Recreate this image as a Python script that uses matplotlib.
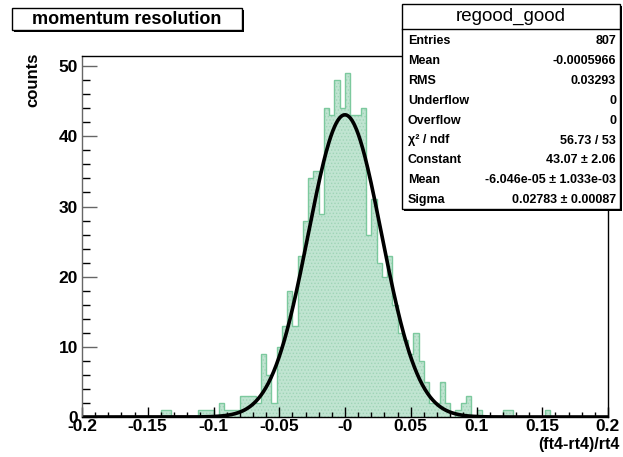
import numpy as np
import matplotlib
matplotlib.use("Agg")
import matplotlib.pyplot as plt
from matplotlib.patches import Rectangle
from matplotlib.ticker import MultipleLocator, FixedLocator, FixedFormatter

plt.rcParams['font.family'] = ['Liberation Sans', 'DejaVu Sans']
plt.rcParams['hatch.linewidth'] = 0.6

# histogram: 100 bins from -0.2 to 0.2, counts
x_min, x_max, n_bins = -0.2, 0.2, 100
counts = [0] * n_bins
read_counts = {
    15: 1, 16: 1, 22: 1, 23: 1, 24: 1, 26: 2, 27: 1, 28: 1, 29: 1,
    30: 3, 31: 3, 32: 3, 33: 2, 34: 9, 35: 6, 36: 2, 37: 10,
    38: 13, 39: 18, 40: 13, 41: 23, 42: 28, 43: 34, 44: 35, 45: 29,
    46: 44, 47: 43, 48: 48, 49: 44, 50: 49, 51: 43, 52: 43, 53: 44,
    54: 26, 55: 31, 56: 22, 57: 20, 58: 23, 59: 16, 60: 12, 61: 11,
    62: 9, 63: 12, 64: 8, 65: 5, 66: 2, 67: 2, 68: 5, 69: 2,
    71: 1, 72: 2, 73: 3, 75: 1, 80: 1, 81: 1, 88: 1,
}
for k, v in read_counts.items():
    counts[k] = v

# gaussian fit parameters (from stats box)
fit_const = 43.07
fit_mean = -6.046e-05
fit_sigma = 0.02783

x_ticks = [-0.2, -0.15, -0.1, -0.05, 0.0, 0.05, 0.1, 0.15, 0.2]
x_tick_labels = ['-0.2', '-0.15', '-0.1', '-0.05', '-0', '0.05', '0.1', '0.15', '0.2']
y_ticks = [0, 10, 20, 30, 40, 50]

stat_title = "regood_good"
stat_names = ["Entries", "Mean", "RMS", "Underflow", "Overflow", "\u03c7\u00b2 / ndf",
              "Constant", "Mean", "Sigma"]
stat_values = ["807", "-0.0005966", "0.03293", "0", "0", "56.73 / 53",
               "43.07 \u00b1 2.06", "-6.046e-05 \u00b1 1.033e-03", "0.02783 \u00b1 0.00087"]

W, H = 623, 457
def fx(px):
    return px / W
def fy(py):
    return 1 - py / H

fig = plt.figure(figsize=(W / 100, H / 100), dpi=100)
ax = fig.add_axes([fx(82), fy(417), fx(608) - fx(82), fy(56) - fy(417)])

edges = np.linspace(x_min, x_max, n_bins + 1)
ax.stairs(counts, edges, fill=True, facecolor='#c0e4d1', edgecolor='#9fd4b7',
          hatch='.....', linewidth=0)
ax.stairs(counts, edges, color='#7cc99e', linewidth=1.0)

xf = np.linspace(x_min, x_max, 800)
ax.plot(xf, fit_const * np.exp(-0.5 * ((xf - fit_mean) / fit_sigma) ** 2),
        color='black', linewidth=2.6)

ax.set_xlim(x_min, x_max)
ax.set_ylim(0, 51.45)
ax.xaxis.set_major_locator(FixedLocator(x_ticks))
ax.xaxis.set_major_formatter(FixedFormatter(x_tick_labels))
ax.xaxis.set_minor_locator(MultipleLocator(0.01))
ax.yaxis.set_major_locator(FixedLocator(y_ticks))
ax.yaxis.set_minor_locator(MultipleLocator(2))
ax.tick_params(axis='x', which='major', direction='in', length=7.2, width=1, pad=1.5,
               labelsize=12.5)
ax.tick_params(axis='x', which='minor', direction='in', length=3.6, width=1)
ax.tick_params(axis='y', which='major', direction='in', length=10.8, width=1, pad=3,
               labelsize=12.5, color='#666666')
ax.tick_params(axis='y', which='minor', direction='in', length=5.8, width=1)
for lab in ax.get_xticklabels() + ax.get_yticklabels():
    lab.set_fontweight('bold')
for s in ax.spines.values():
    s.set_linewidth(1)
ax.spines['left'].set_color('#666666')

fig.text(fx(33), fy(80), "counts", rotation=90, ha='center', va='center',
         fontsize=12, fontweight='bold')
fig.text(fx(620), fy(444), "(ft4-rt4)/rt4", ha='right', va='center',
         fontsize=11.5, fontweight='bold')

# boxes drawn ROOT-like, with a shadow on the bottom and right
def shadow_box(x0, y0, x1, y1):
    fig.patches.append(Rectangle((fx(x0 + 2), fy(y1 + 2)), fx(x1) - fx(x0), fy(y0) - fy(y1),
                                 transform=fig.transFigure, facecolor='black',
                                 edgecolor='none', zorder=5))
    fig.patches.append(Rectangle((fx(x0), fy(y1)), fx(x1) - fx(x0), fy(y0) - fy(y1),
                                 transform=fig.transFigure, facecolor='white',
                                 edgecolor='black', linewidth=1, zorder=6))

shadow_box(12, 8, 242, 30)
fig.text(fx(127), fy(19.5), "momentum resolution", ha='center', va='center',
         fontsize=13, fontweight='bold', zorder=7)

# stats box
shadow_box(402, 4, 620, 209)
fig.lines.append(plt.Line2D([fx(402), fx(620)], [fy(29), fy(29)],
                            transform=fig.transFigure, color='black', linewidth=1,
                            zorder=7))
fig.text(fx(511), fy(16), stat_title, ha='center', va='center', fontsize=13.5,
         zorder=7)
for i, (name, val) in enumerate(zip(stat_names, stat_values)):
    yy = fy(41 + 19.9 * i)
    fig.text(fx(408), yy, name, ha='left', va='center', fontsize=9,
             fontweight='bold', zorder=7)
    fig.text(fx(616), yy, val, ha='right', va='center', fontsize=9,
             fontweight='bold', zorder=7)

fig.savefig("out.png", dpi=100)
